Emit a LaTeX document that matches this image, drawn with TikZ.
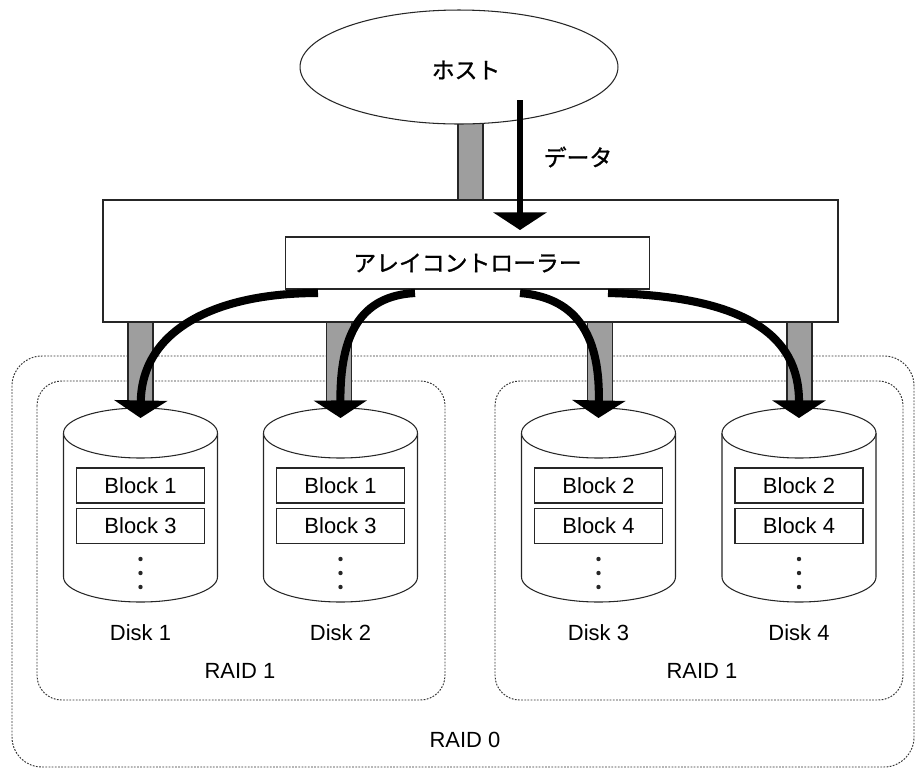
\documentclass[tikz,border=0pt]{standalone}
\usepackage{fontspec}
\setmainfont{Liberation Sans}
\newfontfamily\jp{Noto Sans CJK JP}[FakeBold=1.2]
\usetikzlibrary{arrows.meta,shapes.geometric}
\begin{document}
\begin{tikzpicture}[x=0.02cm,y=-0.02cm,
  line/.style={draw=black!85,line width=0.6pt},
  dotbox/.style={draw=black!80,line width=0.55pt,dash pattern=on 1pt off 0.8pt},
  bar/.style={line,fill=black!38},
  flow/.style={line width=4.6pt,-{Triangle[width=30pt,length=10pt]}},
  blockbox/.style={line,fill=white,minimum width=2.56cm,minimum height=0.7cm,inner sep=0pt,font=\fontsize{12.5}{14}\selectfont},
  lbl/.style={font=\fontsize{12.5}{14}\selectfont},
  jlbl/.style={font=\jp\fontsize{13}{15}\selectfont}]
\useasboundingbox (0,0) rectangle (917,769);
% RAID boxes
\draw[dotbox,rounded corners=17pt] (12,356) rectangle (914,767);
\draw[dotbox,rounded corners=14pt] (37,381) rectangle (445,700);
\draw[dotbox,rounded corners=14pt] (495,381) rectangle (903,700);
\node[lbl] (raid0) at (465,740) {RAID 0};
\node[lbl] (raidl) at (240,671) {RAID 1};
\node[lbl] (raidr) at (702,671) {RAID 1};
% bars
\draw[bar] (458,115) rectangle (483,201);
\foreach \c in {140.5,339,600,799.5}{
  \draw[bar] (\c-12.5,322) rectangle (\c+12.5,420);
}
% controller
\draw[line,fill=white] (103,200) rectangle (838,322);
\node[line,fill=white,minimum width=7.3cm,minimum height=1.04cm,jlbl] (ctrl) at (467.5,263) {アレイコントローラー};
% host
\node[line,fill=white,ellipse,minimum width=6.36cm,minimum height=2.28cm,inner sep=0pt] (host) at (459,67) {};
\node[jlbl] (hostt) at (466,70) {ホスト};
% disks
\foreach \i/\c/\a/\b in {1/140.5/1/3,2/340.5/1/3,3/598.5/2/4,4/799/2/4}{
  \draw[line,fill=white] (\c-77,433) -- (\c-77,577) arc[start angle=180,end angle=0,x radius=77,y radius=25] -- (\c+77,433);
  \draw[line,fill=white] (\c,433) ellipse [x radius=77,y radius=25];
  \coordinate (disk\i) at (\c,418);
  \node[blockbox] (b\i a) at (\c,485.5) {Block \a};
  \node[blockbox] (b\i b) at (\c,526) {Block \b};
  \foreach \y in {559,573,587}{\fill[black!85] (\c,\y) circle (2.2);}
  \node[lbl] (dl\i) at (\c,633) {Disk \i};
}
% data arrow
\coordinate (dstart) at (520,100);
\coordinate (dend) at (520,230);
\draw[flow,line width=3.8pt] (dstart) -- (dend);
\node[jlbl] (data) at (578,157) {データ};
% curved arrows
\coordinate (s1) at (318,293);
\coordinate (s2) at (415,293);
\coordinate (s3) at (520,293);
\coordinate (s4) at (608,293);
\draw[flow] (s1) .. controls (215,293) and (142,330) .. (disk1);
\draw[flow] (s2) .. controls (360,296) and (340,335) .. (disk2);
\draw[flow] (s3) .. controls (580,298) and (600,340) .. (disk3);
\draw[flow] (s4) .. controls (745,296) and (799,335) .. (disk4);
\end{tikzpicture}
\end{document}
